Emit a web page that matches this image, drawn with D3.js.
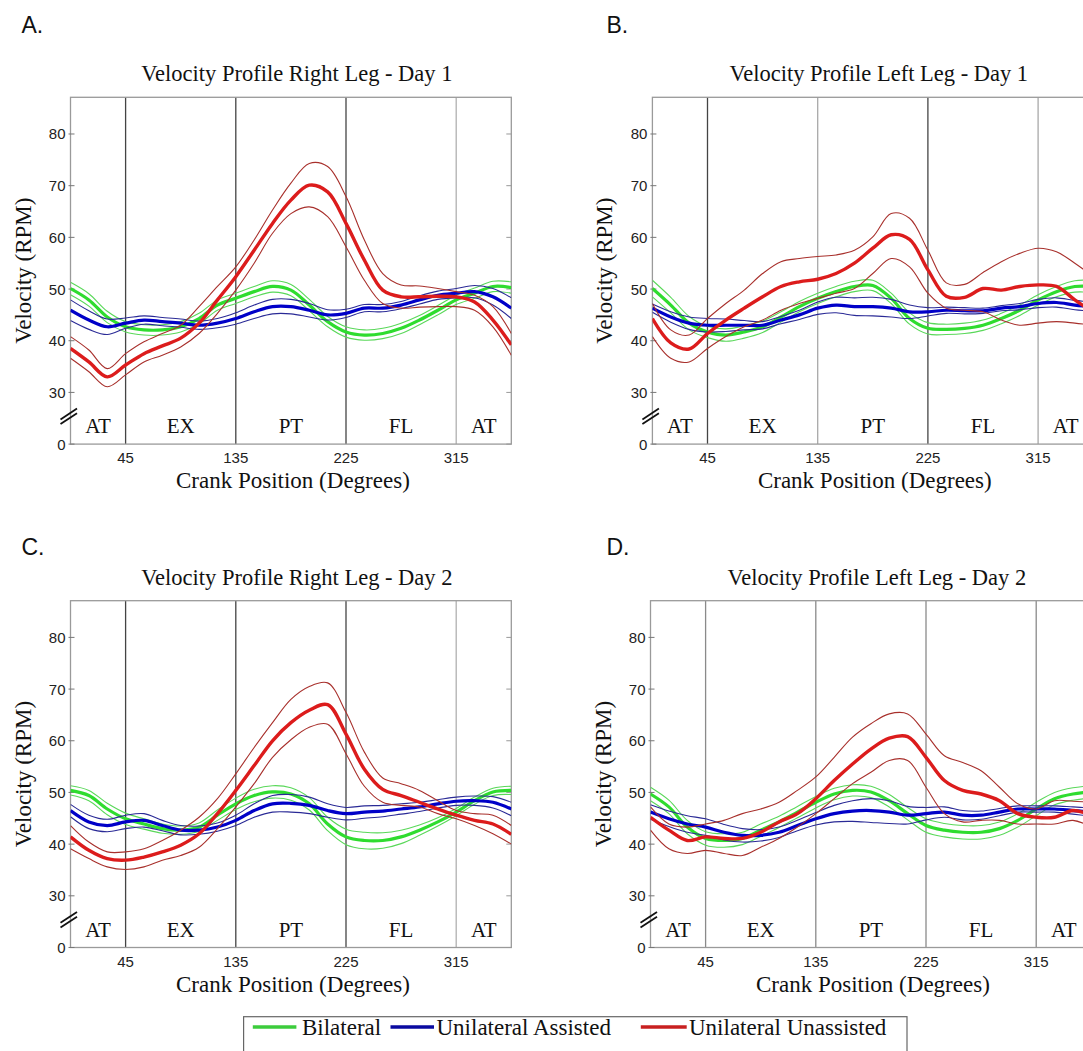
<!DOCTYPE html>
<html><head><meta charset="utf-8">
<script src="https://cdn.jsdelivr.net/npm/d3@7"></script>
<style>body{margin:0;background:#fff;} svg{display:block;}</style>
</head><body>
<svg id="chart" width="1083" height="1051"></svg>
<script>
// ---------------- DATA ----------------
const degrees = [0,15,30,45,60,75,90,105,120,135,150,165,180,195,210,225,240,255,270,285,300,315,330,345,360];
const xTickValues = [45,135,225,315];
const yTickValues = [20,30,40,50,60,70,80];
const yTickLabels = ["0","30","40","50","60","70","80"];
const phaseBounds = [45,135,225,315];
const phaseLabels = ["AT","EX","PT","FL","AT"];
const phaseCenters = [22.5,90,180,270,337.5];
const seriesNames = ["Bilateral","Unilateral Assisted","Unilateral Unassisted"];
const panelLetters = ["A.","B.","C.","D."];
const panelTitles = ["Velocity Profile Right Leg - Day 1","Velocity Profile Left Leg - Day 1","Velocity Profile Right Leg - Day 2","Velocity Profile Left Leg - Day 2"];

// Panel A - Right Leg Day 1
const aGreenMean = [50.1,47.9,44.6,42.7,42.1,42.1,42.7,44.3,46.9,48.2,49.5,50.5,49.8,46.9,43.7,41.7,41.1,41.4,42.4,44.0,45.9,47.9,49.2,50.5,50.3];
const aGreenSd   = [1.2,1.2,1.1,1.0,1.0,1.0,1.0,1.0,1.0,1.0,1.0,1.1,1.1,1.1,1.0,1.0,1.0,1.0,1.0,0.9,0.9,0.9,1.0,1.0,1.1];
const aBlueMean  = [45.9,44.0,42.7,43.4,44.0,43.7,43.4,43.0,43.4,44.3,45.6,46.6,46.6,45.9,45.0,45.3,46.3,46.3,46.9,47.9,48.8,49.2,49.5,48.5,46.3];
const aBlueSd    = [2.0,1.8,1.5,1.0,0.8,0.8,0.8,0.8,0.9,1.1,1.3,1.4,1.4,1.3,1.0,0.8,0.7,0.7,0.7,0.8,0.8,0.9,1.2,1.6,2.0];
const aRedMean   = [38.5,35.9,33.0,35.3,37.5,39.0,40.5,43.4,47.9,52.4,57.5,62.7,67.2,70.1,68.8,62.7,55.6,49.8,48.5,48.5,48.6,48.5,47.5,44.0,39.2];
const aRedHi     = [40.8,38.2,34.6,37.5,39.8,41.4,43.0,46.6,50.5,54.3,59.5,65.3,70.5,74.3,73.7,67.9,59.5,53.0,50.8,50.6,50.1,49.5,48.8,46.6,41.4];
const aRedLo     = [36.6,34.0,31.1,33.4,35.9,37.2,38.8,41.4,45.3,49.8,55.0,60.8,64.6,65.9,64.0,58.2,51.7,47.2,46.3,46.5,46.6,46.6,45.9,42.7,37.2];

// Panel B - Left Leg Day 1
const bGreenMean = [50.1,46.9,43.4,41.7,41.1,41.7,42.7,44.6,46.6,48.2,49.5,50.5,50.7,48.2,44.3,42.4,42.2,42.4,43.0,44.3,45.9,47.9,49.5,50.5,50.5];
const bGreenSd   = [1.6,1.5,1.3,1.1,1.2,1.2,1.1,1.0,1.0,1.0,1.0,1.0,1.0,1.0,1.1,1.1,1.0,1.0,1.0,1.0,1.0,1.0,1.0,1.1,1.2];
const bBlueMean  = [46.3,44.6,43.4,43.0,43.0,43.0,43.0,44.0,45.0,46.3,46.9,46.6,46.6,46.3,45.6,45.6,45.9,45.8,45.8,46.3,46.6,47.2,47.4,46.9,46.6];
const bBlueSd    = [0.8,1.0,1.2,1.3,1.2,0.9,0.7,0.7,0.9,1.2,1.5,1.7,1.8,1.7,1.3,0.8,0.6,0.6,0.5,0.5,0.6,0.8,0.9,0.9,0.9];
const bRedMean   = [44.3,39.6,38.4,41.4,44.0,46.3,48.5,50.5,51.4,51.9,53.0,55.0,57.9,60.5,59.6,53.7,48.6,48.4,50.1,49.8,50.5,50.8,50.5,47.9,45.5];
const bRedHi     = [47.2,42.1,41.1,44.3,47.2,49.8,53.0,55.3,55.9,56.3,56.6,57.5,60.1,64.6,63.7,57.5,51.2,50.9,53.2,55.3,56.9,57.9,57.2,55.0,52.4];
const bRedLo     = [40.8,36.6,35.9,38.5,40.8,42.7,44.0,45.9,47.2,48.2,49.2,50.1,53.0,55.9,54.3,49.2,46.3,45.9,45.6,44.0,43.0,43.4,43.7,43.4,43.0];

// Panel C - Right Leg Day 2
const cGreenMean = [50.4,49.4,46.8,44.9,43.9,43.0,42.7,43.3,45.6,47.8,49.4,50.1,49.7,47.8,43.9,41.4,40.7,40.7,41.4,42.7,44.3,46.2,48.4,50.1,50.4];
const cGreenSd   = [0.9,1.0,1.1,1.1,1.0,0.9,0.8,0.8,1.0,1.1,1.2,1.2,1.2,1.2,1.3,1.5,1.6,1.5,1.3,1.0,0.8,0.7,0.7,0.7,0.8];
const cBlueMean  = [46.5,44.3,43.6,44.3,44.6,43.6,42.7,42.7,43.3,44.6,46.5,47.8,47.9,47.5,46.5,45.9,46.2,46.4,46.8,47.2,47.8,48.3,48.4,48.1,46.8];
const cBlueSd    = [1.2,1.3,1.2,1.3,1.3,1.0,0.9,0.8,0.8,1.0,1.3,1.6,1.7,1.6,1.3,1.2,1.2,1.1,1.0,0.9,0.8,0.8,0.9,1.1,1.3];
const cRedMean   = [41.4,38.8,37.2,36.9,37.5,38.5,39.8,42.0,45.9,50.4,55.2,60.0,63.5,65.9,67.0,61.3,54.5,50.6,49.4,48.1,46.8,45.6,44.6,43.9,41.9];
const cRedHi     = [43.6,40.4,38.5,38.5,39.1,40.7,42.7,45.2,48.8,53.6,58.7,63.5,68.0,70.5,71.2,65.5,57.8,52.8,51.7,50.4,48.4,46.5,45.9,45.6,43.6];
const cRedLo     = [39.1,37.2,35.6,35.1,35.6,36.9,37.8,39.4,43.0,47.2,51.7,56.8,60.2,62.6,63.2,57.5,51.2,48.1,47.5,47.2,45.9,44.9,43.6,42.0,40.0];

// Panel D - Left Leg Day 2
const dGreenMean = [49.7,47.2,43.3,41.1,40.7,41.1,42.7,44.3,46.2,48.1,49.7,50.4,50.1,48.4,45.9,43.6,42.7,42.3,42.3,43.0,44.6,46.8,48.8,49.7,50.1];
const dGreenSd   = [1.3,1.3,1.3,1.3,1.3,1.2,1.2,1.1,1.1,1.1,1.1,1.1,1.1,1.2,1.2,1.3,1.3,1.3,1.3,1.3,1.3,1.3,1.2,1.2,1.2];
const dBlueMean  = [46.2,44.9,43.9,43.3,42.3,41.7,41.7,42.3,43.6,44.9,45.9,46.4,46.5,46.2,45.6,45.9,46.2,45.6,45.6,46.2,46.8,46.8,46.8,46.5,46.2];
const dBlueSd    = [1.4,1.5,1.6,1.6,1.5,1.3,1.1,1.0,1.0,1.2,1.6,2.0,2.3,2.2,1.7,1.2,1.0,0.9,0.8,0.7,0.6,0.6,0.6,0.7,0.8];
const dRedMean   = [45.2,42.7,40.7,41.4,41.1,41.1,42.3,44.3,45.9,48.8,52.3,55.5,58.4,60.5,60.8,56.8,52.3,50.4,49.7,48.4,45.9,45.2,45.2,46.5,45.6];
const dRedHi     = [47.2,43.9,43.3,43.9,44.6,45.9,46.8,48.1,50.4,53.0,56.8,60.7,63.3,65.2,65.2,61.3,57.1,55.8,54.2,51.0,47.8,46.8,48.4,48.3,48.1];
const dRedLo     = [42.7,39.1,38.2,38.8,38.2,37.8,39.4,41.1,43.3,45.9,48.8,51.7,53.9,56.2,56.2,51.0,45.9,44.3,44.6,44.6,43.9,43.9,43.9,44.6,43.3];

// ---------------- LAYOUT / STYLE ----------------
const SERIF = "'Liberation Serif','Times New Roman',serif";
const SANS = "'Liberation Sans',Arial,sans-serif";
const COL = {
  green: "#2fdc2f", greenBand: "#5ad85a",
  blue: "#0000c8", blueBand: "#2a2a96",
  red: "#dc1c1c", redBand: "#a8302c"
};
const panels = [
  {left:70.5, top:97.3, letterX:21.5, letterY:33, data:[aGreenMean,aGreenSd,aBlueMean,aBlueSd,aRedMean,aRedHi,aRedLo], vcol:["#444","#444","#444","#b0b0b0"]},
  {left:652.4, top:97.3, letterX:606.5, letterY:33, data:[bGreenMean,bGreenSd,bBlueMean,bBlueSd,bRedMean,bRedHi,bRedLo], vcol:["#444","#a8a8a8","#444","#a8a8a8"]},
  {left:70.5, top:600.7, letterX:21.5, letterY:555, data:[cGreenMean,cGreenSd,cBlueMean,cBlueSd,cRedMean,cRedHi,cRedLo], vcol:["#444","#444","#444","#b0b0b0"]},
  {left:650.5, top:600.7, letterX:606.5, letterY:555, data:[dGreenMean,dGreenSd,dBlueMean,dBlueSd,dRedMean,dRedHi,dRedLo], vcol:["#8a8a8a","#8a8a8a","#8a8a8a","#8a8a8a"]}
];
const PW = 440.8, PH = 346.8;

const svg = d3.select("#chart");
svg.append("rect").attr("width",1083).attr("height",1051).attr("fill","#fff");

panels.forEach((p, i) => {
  const x = d3.scaleLinear().domain([0,360]).range([p.left, p.left + PW]);
  const y = d3.scaleLinear().domain([20,87.1]).range([p.top + PH, p.top]);
  const g = svg.append("g");
  const clipId = "clip" + i;
  svg.append("clipPath").attr("id", clipId).append("rect")
    .attr("x", p.left).attr("y", p.top).attr("width", PW).attr("height", PH);

  // panel letter
  svg.append("text").attr("x", p.letterX).attr("y", p.letterY)
    .attr("font-family", SANS).attr("font-size", 23).attr("fill", "#111").text(panelLetters[i]);
  // title
  g.append("text").attr("x", p.left + PW/2 + 6).attr("y", p.top - 16)
    .attr("text-anchor","middle").attr("font-family", SERIF).attr("font-size", 22.5).attr("fill","#111")
    .text(panelTitles[i]);

  // vertical phase lines
  phaseBounds.forEach((b, k) => {
    g.append("line").attr("x1", x(b)).attr("x2", x(b)).attr("y1", p.top).attr("y2", p.top + PH)
      .attr("stroke", p.vcol[k]).attr("stroke-width", 1.3);
  });

  // frame
  g.append("rect").attr("x", p.left).attr("y", p.top).attr("width", PW).attr("height", PH)
    .attr("fill","none").attr("stroke","#9a9a9a").attr("stroke-width",1.3);

  // y ticks and labels
  yTickValues.forEach((v, k) => {
    g.append("line").attr("x1", p.left - 2).attr("x2", p.left + 4).attr("y1", y(v)).attr("y2", y(v))
      .attr("stroke","#777").attr("stroke-width",1);
    g.append("line").attr("x1", p.left + PW - 5).attr("x2", p.left + PW).attr("y1", y(v)).attr("y2", y(v))
      .attr("stroke","#999").attr("stroke-width",1);
    g.append("text").attr("x", p.left - 5).attr("y", y(v) + 5.5).attr("text-anchor","end")
      .attr("font-family", SANS).attr("font-size", 15).attr("fill","#222").text(yTickLabels[k]);
  });
  // x tick labels
  xTickValues.forEach(v => {
    g.append("text").attr("x", x(v)).attr("y", p.top + PH + 19).attr("text-anchor","middle")
      .attr("font-family", SANS).attr("font-size", 15).attr("fill","#222").text(v);
  });
  // axis labels
  g.append("text").attr("transform", `translate(${p.left - 48},${p.top + PH/2}) rotate(-90)`)
    .attr("dy", "0.35em").attr("text-anchor","middle").attr("font-family", SERIF).attr("font-size", 23)
    .attr("fill","#111").text("Velocity (RPM)");
  g.append("text").attr("x", p.left + PW/2 + 2).attr("y", p.top + PH + 44).attr("text-anchor","middle")
    .attr("font-family", SERIF).attr("font-size", 23).attr("fill","#111").text("Crank Position (Degrees)");

  // phase labels
  phaseLabels.forEach((lab, k) => {
    g.append("text").attr("x", x(phaseCenters[k])).attr("y", y(20) - 11).attr("text-anchor","middle")
      .attr("font-family", SERIF).attr("font-size", 21).attr("fill","#111").text(lab);
  });

  // axis break marks
  [[0],[4.7]].forEach(o => {
    g.append("line").attr("x1", p.left - 10).attr("y1", y(20) - 24.7 + o[0])
      .attr("x2", p.left + 6.5).attr("y2", y(20) - 35.5 + o[0])
      .attr("stroke","#111").attr("stroke-width",1.8);
  });

  // series
  const [gm, gs, bm, bs, rm, rh, rl] = p.data;
  const line = d3.line().x((d, k) => x(degrees[k])).y(d => y(d)).curve(d3.curveCatmullRom.alpha(0.5));
  const plot = g.append("g").attr("clip-path", `url(#${clipId})`);
  const drawBand = (mean, sd, bandCol, meanCol, w) => {
    plot.append("path").attr("d", line(mean.map((m, k) => m + sd[k]))).attr("fill","none")
      .attr("stroke", bandCol).attr("stroke-width", 1.1);
    plot.append("path").attr("d", line(mean.map((m, k) => m - sd[k]))).attr("fill","none")
      .attr("stroke", bandCol).attr("stroke-width", 1.1);
    plot.append("path").attr("d", line(mean)).attr("fill","none").attr("stroke", meanCol).attr("stroke-width", w);
  };
  drawBand(gm, gs, COL.greenBand, COL.green, 3.2);
  drawBand(bm, bs, COL.blueBand, COL.blue, 3.2);
  plot.append("path").attr("d", line(rh)).attr("fill","none").attr("stroke", COL.redBand).attr("stroke-width", 1.1);
  plot.append("path").attr("d", line(rl)).attr("fill","none").attr("stroke", COL.redBand).attr("stroke-width", 1.1);
  plot.append("path").attr("d", line(rm)).attr("fill","none").attr("stroke", COL.red).attr("stroke-width", 3.4);
});

// legend
const lg = svg.append("g");
lg.append("rect").attr("x", 243.6).attr("y", 1016.7).attr("width", 663.4).attr("height", 60)
  .attr("fill","#fff").attr("stroke","#666").attr("stroke-width",1.2);
const legendItems = [
  {x1:252.8, x2:296.4, tx:302, col:"#3ccc3c"},
  {x1:390.5, x2:434, tx:436.5, col:"#0a0aa0"},
  {x1:640.8, x2:686.7, tx:689, col:"#c82020"}
];
legendItems.forEach((it, k) => {
  lg.append("line").attr("x1", it.x1).attr("x2", it.x2).attr("y1", 1027).attr("y2", 1027)
    .attr("stroke", it.col).attr("stroke-width", 3.5);
  lg.append("text").attr("x", it.tx).attr("y", 1034.5).attr("font-family", SERIF).attr("font-size", 23)
    .attr("fill","#111").text(seriesNames[k]);
});
</script>
</body></html>
